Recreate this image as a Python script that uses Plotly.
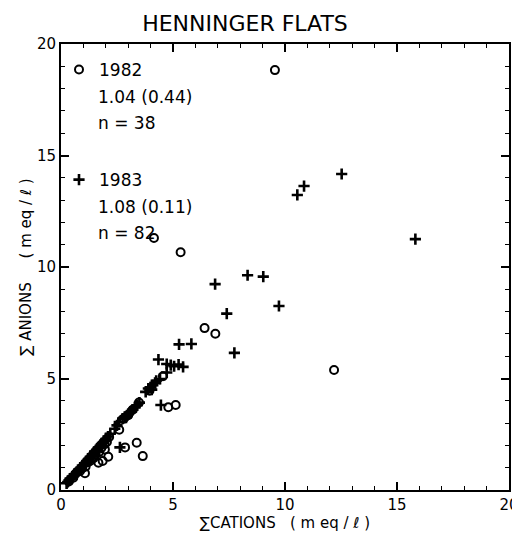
import plotly.graph_objects as go

# ---- data (meq/l) ----
cations_1982 = [9.55, 4.15, 5.34, 6.41, 6.89, 12.19, 4.79, 5.12, 3.48, 2.60,
                2.86, 3.38, 3.65, 1.96, 2.11, 1.86, 1.67, 1.07, 3.95,
                0.35, 0.55, 0.70, 0.85, 0.95, 1.10, 1.20, 1.30, 1.45, 1.55,
                1.70, 1.80, 1.95, 2.05, 2.15, 2.80, 3.00, 3.20, 4.55]
anions_1982 = [18.83, 11.30, 10.66, 7.26, 7.01, 5.38, 3.71, 3.81, 3.92, 2.70,
               1.91, 2.12, 1.52, 1.82, 1.49, 1.30, 1.22, 0.75, 4.45,
               0.38, 0.55, 0.78, 0.85, 0.98, 1.05, 1.25, 1.30, 1.42, 1.60,
               1.70, 1.88, 2.05, 2.15, 2.38, 3.20, 3.35, 3.60, 5.10]

cations_1983 = [12.53, 10.85, 10.55, 15.82, 6.88, 8.33, 9.03, 9.73, 7.40, 5.27,
                5.82, 7.74, 4.35, 4.72, 4.90, 5.05, 5.25, 5.45, 4.72, 4.42,
                4.46, 2.63, 3.78, 3.90, 4.00, 4.10, 4.20, 4.25, 4.05,
                0.25, 0.30, 0.35, 0.40, 0.45, 0.50, 0.55, 0.60, 0.65, 0.70,
                0.75, 0.80, 0.85, 0.90, 0.95, 1.00, 1.05, 1.10, 1.15, 1.20,
                1.25, 1.30, 1.35, 1.40, 1.45, 1.50, 1.55, 1.60, 1.65, 1.70,
                1.75, 1.80, 1.85, 1.90, 1.95, 2.00, 2.10, 2.20,
                2.40, 2.50, 2.60, 2.75, 2.85, 2.90, 2.95, 3.00, 3.05, 3.10,
                3.15, 3.20, 3.30, 3.40, 3.50]
anions_1983 = [14.17, 13.63, 13.23, 11.25, 9.23, 9.63, 9.57, 8.25, 7.91, 6.53,
               6.55, 6.15, 5.85, 5.65, 5.60, 5.55, 5.62, 5.52, 5.27, 4.98,
               3.81, 1.91, 4.40, 4.55, 4.60, 4.70, 4.80, 4.90, 4.50,
               0.30, 0.36, 0.42, 0.50, 0.52, 0.60, 0.62, 0.70, 0.72, 0.80,
               0.82, 0.92, 0.95, 1.00, 1.08, 1.10, 1.20, 1.22, 1.30, 1.35,
               1.40, 1.48, 1.50, 1.60, 1.62, 1.72, 1.75, 1.80, 1.88, 1.92,
               1.98, 2.05, 2.10, 2.15, 2.22, 2.28, 2.40, 2.52,
               2.75, 2.90, 3.05, 3.20, 3.28, 3.25, 3.35, 3.40, 3.45, 3.50,
               3.52, 3.60, 3.70, 3.80, 3.92]

series_names = ["1982", "1983"]
series_stats = [["1.04 (0.44)", "n = 38"], ["1.08 (0.11)", "n = 82"]]

title_text = "HENNINGER FLATS"
x_title = "∑CATIONS   ( m eq / ℓ )"
y_title = "∑ ANIONS     ( m eq / ℓ )"
tick_vals = [0, 5, 10, 15, 20]

FONT = "DejaVu Sans"
OFF = 8  # default page body margin of the browser
W, H = 520 - OFF, 539 - OFF
ML, MR, MT, MB = 61 - OFF, 11, 44 - OFF, 49
PW = W - ML - MR
PH = H - MT - MB


def px_x(sx):
    return (sx - OFF - ML) / PW


def px_y(sy):
    return 1 - (sy - OFF - MT) / PH


fig = go.Figure()
fig.add_trace(go.Scatter(
    x=cations_1982, y=anions_1982, mode="markers", name=series_names[0],
    legendgroup="a",
    marker=dict(symbol="circle-open", size=8, color="black",
                line=dict(width=2, color="black"))))
fig.add_trace(go.Scatter(
    x=cations_1983, y=anions_1983, mode="markers", name=series_names[1],
    legendgroup="b",
    marker=dict(symbol="cross-thin", size=8, color="black",
                line=dict(width=2.6, color="black"))))

axis_common = dict(
    range=[0, 20], tickvals=tick_vals, ticks="inside", ticklen=8, tickwidth=1.5,
    tickcolor="black", showline=True, linecolor="black", linewidth=2,
    mirror="allticks", showgrid=False, zeroline=False, automargin=False,
    tickfont=dict(family=FONT, size=15, color="black"),
    minor=dict(dtick=1, ticks="inside", ticklen=4, tickwidth=1.2, tickcolor="black"),
)

# stats lines under each legend entry (screen pixel rows from the reference)
stat_rows = [[97, 123], [207, 233]]
annotations = []
for lines, rows in zip(series_stats, stat_rows):
    for txt, row in zip(lines, rows):
        annotations.append(dict(
            text=txt, xref="paper", yref="paper", x=px_x(96), y=px_y(row),
            xanchor="left", yanchor="middle", showarrow=False,
            font=dict(family=FONT, size=17, color="black")))

fig.update_layout(
    width=W, height=H,
    margin=dict(l=ML, r=MR, t=MT, b=MB),
    paper_bgcolor="white", plot_bgcolor="white",
    font=dict(family=FONT, color="black"),
    title=dict(text=title_text, x=(245 - OFF) / W, xref="container", xanchor="center",
               y=1 - (23 - OFF) / H, yref="container", yanchor="middle",
               font=dict(family=FONT, size=22, color="black")),
    xaxis=dict(axis_common, title=dict(text=x_title, standoff=4,
                                        font=dict(family=FONT, size=15))),
    yaxis=dict(axis_common, title=dict(text=y_title, standoff=2,
                                        font=dict(family=FONT, size=15))),
    annotations=annotations,
    showlegend=True,
    legend=dict(x=px_x(59), y=px_y(52),
                xanchor="left", yanchor="top",
                bgcolor="rgba(0,0,0,0)", valign="middle", traceorder="grouped",
                tracegroupgap=85, itemwidth=30,
                font=dict(family=FONT, size=17, color="black")),
)

fig.write_html("out.html")
